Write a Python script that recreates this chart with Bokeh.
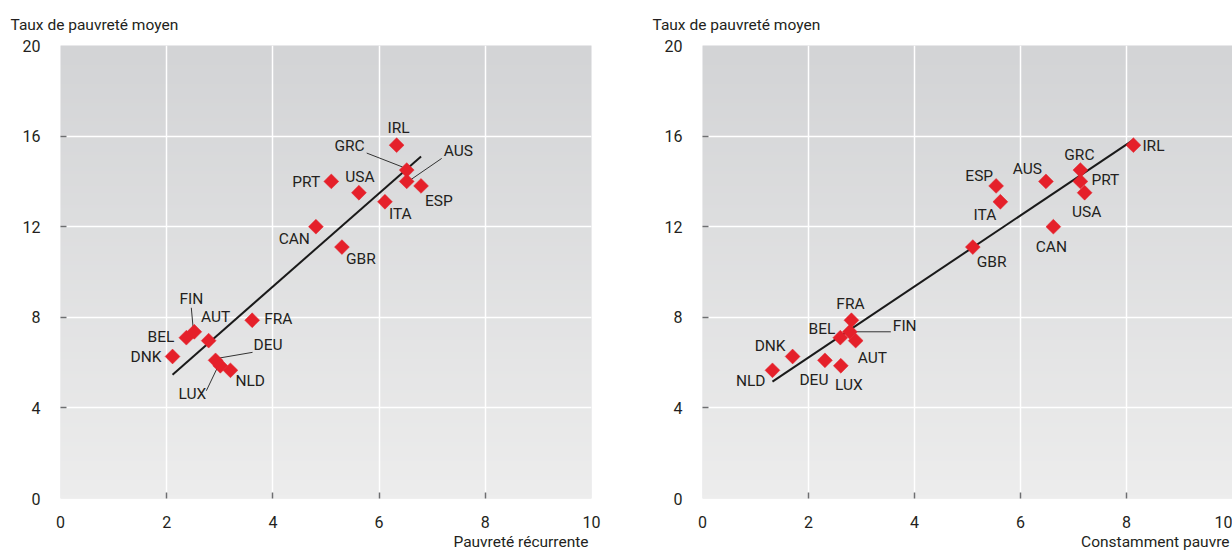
import numpy as np
from bokeh.plotting import figure
from bokeh.layouts import row
from bokeh.models import ColumnDataSource, Range1d, FixedTicker, Title
from bokeh.core.properties import value
from bokeh.embed import file_html
from bokeh.resources import INLINE

# ---------------- data ----------------
pays = ["IRL", "GRC", "AUS", "ESP", "PRT", "USA", "ITA", "CAN", "GBR",
        "FRA", "AUT", "FIN", "BEL", "DNK", "DEU", "LUX", "NLD"]
taux_moyen = [15.6, 14.5, 14.0, 13.8, 14.0, 13.5, 13.1, 12.0, 11.1,
              7.87, 6.97, 7.36, 7.1, 6.27, 6.1, 5.86, 5.66]
pauvrete_recurrente = [6.33, 6.52, 6.52, 6.79, 5.10, 5.62, 6.11, 4.81, 5.30,
                       3.61, 2.79, 2.52, 2.37, 2.11, 2.92, 3.01, 3.20]
constamment_pauvre = [8.13, 7.13, 6.48, 5.54, 7.13, 7.21, 5.62, 6.62, 5.10,
                      2.81, 2.89, 2.78, 2.60, 1.70, 2.31, 2.61, 1.32]
x_ticks = [0, 2, 4, 6, 8, 10]
y_ticks = [0, 4, 8, 12, 16, 20]

# ---------------- style / layout ----------------
FONT = "Roboto"
TXT = "#231f20"
RED = "#e5202a"
FRAME_H = 453

# label placement (align, dx px, dy px downward)
lab_left = {
    "IRL": ("center", 2, -17), "GRC": ("right", -42, -24), "AUS": ("left", 37, -30),
    "ESP": ("left", 4, 15), "PRT": ("right", -11, 1), "USA": ("center", 1, -16),
    "ITA": ("left", 4, 12), "CAN": ("right", -6, 12), "GBR": ("left", 4, 12),
    "FIN": ("center", -3, -33), "AUT": ("center", 7, -24), "FRA": ("left", 12, -1),
    "BEL": ("right", -12, -1), "DNK": ("right", -11, 1), "DEU": ("left", 38, -15),
    "NLD": ("left", 5, 11), "LUX": ("right", -14, 28),
}
lab_right = {
    "IRL": ("left", 9, 1), "GRC": ("center", -1, -15), "PRT": ("left", 11, -1),
    "USA": ("center", 2, 19), "AUS": ("right", -4, -12), "ESP": ("right", -3, -10),
    "ITA": ("right", -4, 13), "CAN": ("center", -2, 20), "GBR": ("left", 4, 15),
    "FRA": ("center", -1, -16), "BEL": ("right", -5, -9), "FIN": ("left", 43, -6),
    "AUT": ("left", 2, 17), "DNK": ("right", -7, -10), "NLD": ("right", -7, 11),
    "DEU": ("center", -11, 20), "LUX": ("center", 8, 19),
}
# leader lines: country -> ((dx1, dy1), (dx2, dy2)) pixel offsets from the point
lead_left = {"GRC": ((-4, -3), (-40, -17)), "AUS": ((3, -1), (35, -23)),
             "FIN": ((-1, -2), (-3, -24)), "DEU": ((2, -2), (37, -8)),
             "LUX": ((-3, 2), (-14, 25))}
lead_right = {"FIN": ((6, 0), (41, 0))}


def make_panel(xs, xlabel, labels, leaders, frame_w, border_right):
    p = figure(frame_width=frame_w, frame_height=FRAME_H,
               x_range=Range1d(0, 10), y_range=Range1d(0, 20),
               min_border_left=60, min_border_right=border_right,
               min_border_top=45, min_border_bottom=53,
               output_backend="svg", toolbar_location=None)
    p.outline_line_color = None
    p.background_fill_color = "#e1e2e3"
    p.border_fill_color = "white"

    # vertical gradient background
    n = 120
    t = np.linspace(0, 1, n)[:, None]  # bottom -> top
    top = np.array([211, 212, 214]); bot = np.array([237, 237, 237])
    cols = (bot + (top - bot) * t).astype(np.uint32)
    img = np.empty((n, 1), dtype=np.uint32)
    v = img.view(dtype=np.uint8).reshape((n, 1, 4))
    v[:, :, 0] = cols[:, 0:1]; v[:, :, 1] = cols[:, 1:2]; v[:, :, 2] = cols[:, 2:3]; v[:, :, 3] = 255
    p.image_rgba(image=[img], x=0, y=0, dw=10, dh=20, level="image")

    for g in (p.xgrid, p.ygrid):
        g.grid_line_color = "white"
        g.grid_line_width = 1.5
    p.xgrid.ticker = FixedTicker(ticks=x_ticks[1:-1])
    p.ygrid.ticker = FixedTicker(ticks=y_ticks[1:-1])

    for ax, ticks in ((p.xaxis[0], x_ticks), (p.yaxis[0], y_ticks)):
        ax.ticker = FixedTicker(ticks=ticks, minor_ticks=ticks[1:-1])
        ax.axis_line_color = None
        ax.major_tick_line_color = None
        ax.minor_tick_line_color = "#6d6e70"
        ax.minor_tick_line_width = 1.5
        ax.minor_tick_in = 6
        ax.minor_tick_out = 0
        ax.major_label_text_font = FONT
        ax.major_label_text_font_size = "16px"
        ax.major_label_text_color = TXT
    p.yaxis.major_label_standoff = 14
    p.xaxis.major_label_standoff = 11

    pxx = frame_w / 10.0
    pxy = FRAME_H / 20.0

    # regression line
    xa = np.array(xs); ya = np.array(taux_moyen)
    b, a = np.polyfit(xa, ya, 1)
    xl = np.array([xa.min(), xa.max()])
    p.line(xl, a + b * xl, line_color="#1a1a1a", line_width=2)

    # leader lines
    lx0, ly0, lx1, ly1 = [], [], [], []
    for c, ((d1x, d1y), (d2x, d2y)) in leaders.items():
        i = pays.index(c)
        lx0.append(xs[i] + d1x / pxx); ly0.append(taux_moyen[i] - d1y / pxy)
        lx1.append(xs[i] + d2x / pxx); ly1.append(taux_moyen[i] - d2y / pxy)
    p.segment(lx0, ly0, lx1, ly1, line_color="#333333", line_width=1)

    src = ColumnDataSource(dict(
        x=xs, y=taux_moyen, pays=pays,
        align=[labels[c][0] for c in pays],
        dx=[labels[c][1] for c in pays],
        dy=[labels[c][2] for c in pays]))
    p.scatter("x", "y", source=src, marker="square", angle=np.pi / 4, size=10.5,
              fill_color=RED, line_color=RED, line_width=0.5)
    p.text("x", "y", text="pays", source=src, x_offset="dx", y_offset="dy",
           text_align="align", text_baseline="middle",
           text_font=value(FONT), text_font_size="15.5px", text_color=TXT)

    p.title.text = "Taux de pauvreté moyen"
    p.title.align = "left"
    p.title.offset = -50
    p.title.standoff = 23
    p.title.text_font = FONT
    p.title.text_font_size = "15.5px"
    p.title.text_font_style = "normal"
    p.title.text_color = TXT

    p.add_layout(Title(text=xlabel, align="right", text_font=FONT,
                       text_font_size="15.5px", text_font_style="normal",
                       text_color=TXT, offset=3, standoff=0), "below")
    return p


p1 = make_panel(pauvrete_recurrente, "Pauvreté récurrente", lab_left, lead_left, 531, 51)
p2 = make_panel(constamment_pauvre, "Constamment pauvre", lab_right, lead_right, 530, 0)

layout = row(p1, p2)
open("out.html", "w").write(file_html(layout, INLINE))
